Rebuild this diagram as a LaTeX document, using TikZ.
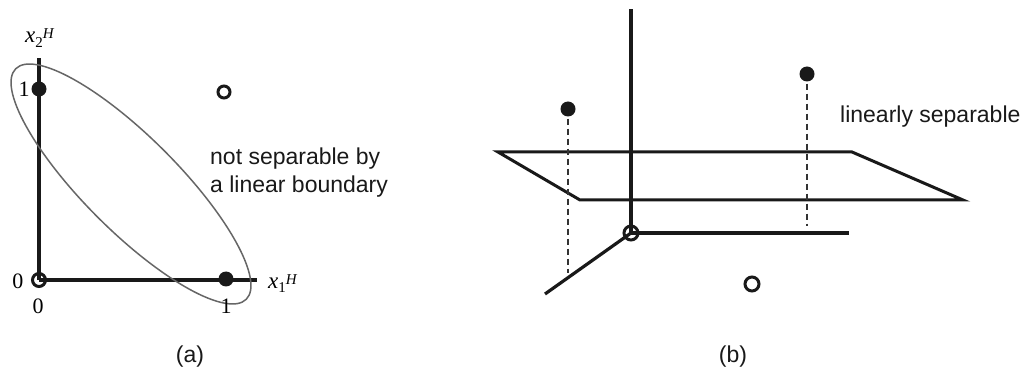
\documentclass[tikz,border=0pt]{standalone}
\usepackage{fontspec}
\setmainfont{Liberation Serif}
\newfontfamily\arialfam{Liberation Sans}
\begin{document}
\begin{tikzpicture}[x=1pt,y=-1pt,
  ax/.style={line width=3.2pt, black!90},
  pl/.style={line width=3pt, black!90, line join=miter},
  fdot/.style={circle, fill=black!90, inner sep=0pt, minimum size=15pt},
  odot/.style={circle, draw=black!90, line width=3pt, inner sep=0pt},
  dsh/.style={line width=1.5pt, black!80, dash pattern=on 6pt off 4pt},
  lbl/.style={font=\fontsize{22}{26}\selectfont, inner sep=0pt},
  xlbl/.style={font=\fontsize{23}{27}\selectfont, inner sep=0pt, anchor=base west},
  sans/.style={font=\arialfam\fontsize{23}{28}\selectfont, inner sep=0pt, text=black!90},
  ell/.style={line width=1.5pt, black!60},
]
\useasboundingbox (0,0) rectangle (1026,374);
% ---------- panel (a)
\coordinate (aO) at (39,280);
\coordinate (aY) at (39,58);
\coordinate (aX) at (257,280);
\draw[ax] (aO) -- (aY);
\draw[ax] (aO) -- (aX);
\draw[ell, rotate around={-45:(131,184)}] (131,184) ellipse [x radius=163pt, y radius=47pt];
\node[fdot] (a01) at (39,89) {};
\node[fdot] (a10) at (226,279) {};
\node[odot, minimum size=13pt] (a00) at (39,280) {};
\node[odot, minimum size=12pt] (a11) at (224,92) {};
\node[lbl] (l1) at (24,89) {1};
\node[lbl] (l0l) at (18,281) {0};
\node[lbl] (l0b) at (38,306) {0};
\node[lbl] (l1b) at (226,306) {1};
\node[xlbl] (x2) at (25,43) {\textit{x}\raisebox{-5pt}{\fontsize{15}{15}\selectfont 2}\raisebox{4pt}{\fontsize{15}{15}\selectfont\textit{H}}};
\node[xlbl] (x1) at (268,288) {\textit{x}\raisebox{-5pt}{\fontsize{15}{15}\selectfont 1}\raisebox{4pt}{\fontsize{15}{15}\selectfont\textit{H}}};
\node[sans, anchor=base west] (t2) at (210,165) {not separable by};
\node[sans, anchor=base west] (t3) at (210,193) {a linear boundary};
\node[sans, anchor=base] (ca) at (190,362) {(a)};
% ---------- panel (b)
\coordinate (bO) at (631,233);
\coordinate (bY) at (631,9);
\coordinate (bX) at (849,233);
\coordinate (bZ) at (545,294);
\coordinate (p1) at (498,152);
\coordinate (p2) at (852,152);
\coordinate (p3) at (963,200);
\coordinate (p4) at (580,200);
\draw[pl] (p1) -- (p2) -- (p3) -- (p4) -- cycle;
\draw[ax] (bO) -- (bY);
\draw[ax] (bO) -- (bX);
\draw[ax] (bO) -- (bZ);
\node[odot, minimum size=14pt] (b000) at (bO) {};
\node[odot, minimum size=14pt] (b001) at (752,284) {};
\node[fdot] (b1) at (568,109) {};
\node[fdot] (b2) at (807,74) {};
\coordinate (d1) at (568,273);
\coordinate (d2) at (807,226);
\draw[dsh] ([yshift=-2pt]b1.south) -- (d1);
\draw[dsh] ([yshift=-2pt]b2.south) -- (d2);
\node[sans, anchor=base west] (t1) at (840,123) {linearly separable};
\node[sans, anchor=base] (cb) at (733,362) {(b)};
\end{tikzpicture}
\end{document}
